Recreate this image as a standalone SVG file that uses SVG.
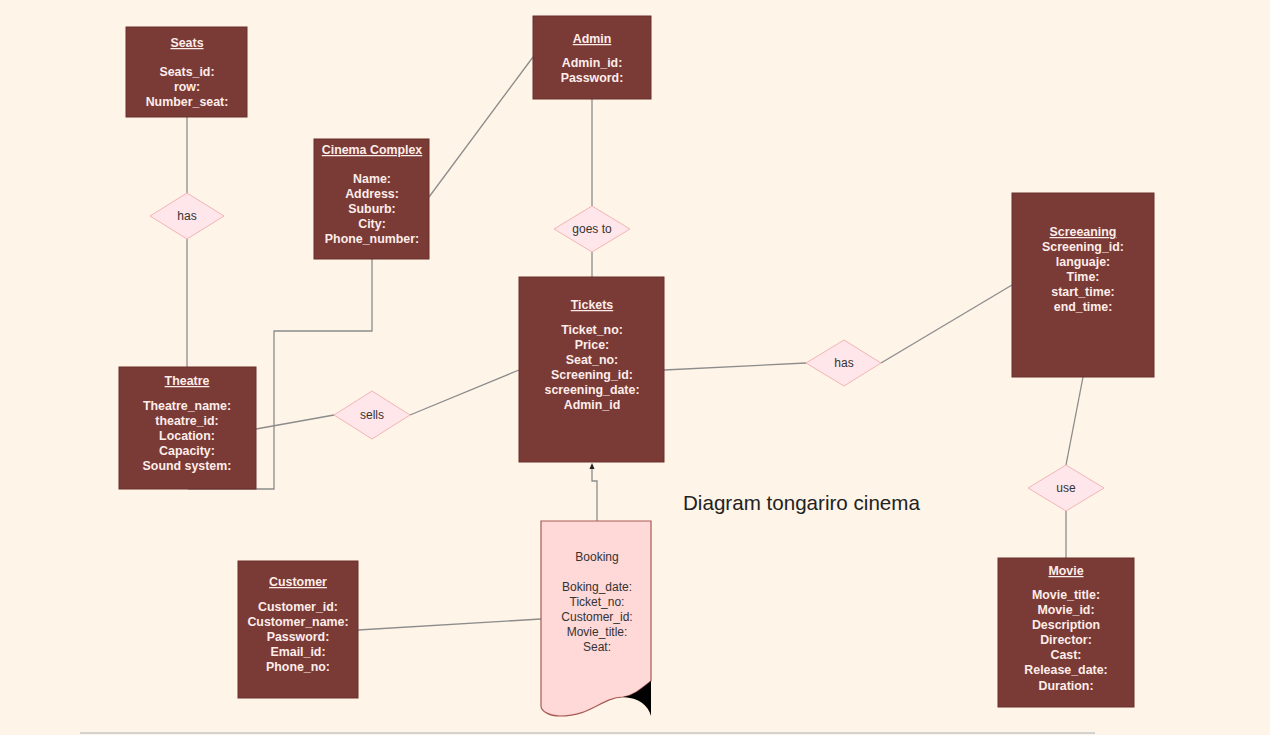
<svg xmlns="http://www.w3.org/2000/svg" width="1270" height="735" viewBox="0 0 1270 735">
  <style>
    .ent{fill:#7A3A35;stroke:#6A2E2A;stroke-width:1}
    .et{font-family:"Liberation Sans",Arial,sans-serif;font-size:12.4px;font-weight:bold;fill:#FDEDEA;text-anchor:middle}
    .ttl{text-decoration:underline}
    .rel{fill:#FFE6EA;stroke:#F2B5B5;stroke-width:1}
    .rt{font-family:"Liberation Sans",Arial,sans-serif;font-size:12px;fill:#333;text-anchor:middle}
    .con{fill:none;stroke:#8C8C8C;stroke-width:1.3}
    .doc{fill:#FFD8D8;stroke:#A85A55;stroke-width:1.2}
  </style>
  <defs>
    <marker id="arr" markerWidth="6" markerHeight="6" refX="3" refY="3" orient="auto" markerUnits="userSpaceOnUse">
      <path d="M0,0.5 L6,3 L0,5.5 Z" fill="#222"/>
    </marker>
  </defs>
  <rect x="0" y="0" width="1270" height="735" fill="#FEF4E8"/>
  <line x1="80" y1="733" x2="1095" y2="733" stroke="#D2D2D2" stroke-width="2"/>

  <g id="connectors">
    <path class="con" d="M187,117 V193"/>
    <path class="con" d="M187,239 V367"/>
    <path class="con" d="M429,197 L533,57"/>
    <path class="con" d="M372,259 V331 H274 V489 H188"/>
    <path class="con" d="M256,429 L334,415"/>
    <path class="con" d="M410,415 L519,370"/>
    <path class="con" d="M592,99 V206"/>
    <path class="con" d="M592,252 V277"/>
    <path class="con" d="M664,370 L806,363"/>
    <path class="con" d="M881,363 L1012,285"/>
    <path class="con" d="M1083,377 L1066,465"/>
    <path class="con" d="M1066,511 V558"/>
    <path class="con" d="M358,630 L541,619"/>
    <path class="con" d="M597,521 V481 H592 V466" stroke="#555" marker-end="url(#arr)"/>
  </g>

  <g id="seats">
    <rect class="ent" x="126" y="27" width="121" height="90"/>
    <text class="et" x="187" y="47"><tspan class="ttl">Seats</tspan><tspan x="187" y="76">Seats_id:</tspan><tspan x="187" y="91">row:</tspan><tspan x="187" y="106">Number_seat:</tspan></text>
  </g>

  <g id="admin">
    <rect class="ent" x="533" y="16" width="118" height="83"/>
    <text class="et" x="592" y="43"><tspan class="ttl">Admin</tspan><tspan x="592" y="67">Admin_id:</tspan><tspan x="592" y="82">Password:</tspan></text>
  </g>

  <g id="cinema-complex">
    <rect class="ent" x="314" y="139" width="115" height="120"/>
    <text class="et" x="372" y="154"><tspan class="ttl">Cinema Complex</tspan><tspan x="372" y="183">Name:</tspan><tspan x="372" y="198">Address:</tspan><tspan x="372" y="213">Suburb:</tspan><tspan x="372" y="228">City:</tspan><tspan x="372" y="243">Phone_number:</tspan></text>
  </g>

  <g id="theatre">
    <rect class="ent" x="119" y="367" width="137" height="122"/>
    <text class="et" x="187" y="385"><tspan class="ttl">Theatre</tspan><tspan x="187" y="410">Theatre_name:</tspan><tspan x="187" y="425">theatre_id:</tspan><tspan x="187" y="440">Location:</tspan><tspan x="187" y="455">Capacity:</tspan><tspan x="187" y="470">Sound system:</tspan></text>
  </g>

  <g id="tickets">
    <rect class="ent" x="519" y="277" width="145" height="185"/>
    <text class="et" x="592" y="309"><tspan class="ttl">Tickets</tspan><tspan x="592" y="334">Ticket_no:</tspan><tspan x="592" y="349">Price:</tspan><tspan x="592" y="364">Seat_no:</tspan><tspan x="592" y="379">Screening_id:</tspan><tspan x="592" y="394">screening_date:</tspan><tspan x="592" y="409">Admin_id</tspan></text>
  </g>

  <g id="screening">
    <rect class="ent" x="1012" y="193" width="142" height="184"/>
    <text class="et" x="1083" y="236"><tspan class="ttl">Screeaning</tspan><tspan x="1083" y="251">Screening_id:</tspan><tspan x="1083" y="266">languaje:</tspan><tspan x="1083" y="281">Time:</tspan><tspan x="1083" y="296">start_time:</tspan><tspan x="1083" y="311">end_time:</tspan></text>
  </g>

  <g id="movie">
    <rect class="ent" x="998" y="558" width="136" height="149"/>
    <text class="et" x="1066" y="575"><tspan class="ttl">Movie</tspan><tspan x="1066" y="599">Movie_title:</tspan><tspan x="1066" y="614">Movie_id:</tspan><tspan x="1066" y="629">Description</tspan><tspan x="1066" y="644">Director:</tspan><tspan x="1066" y="659">Cast:</tspan><tspan x="1066" y="674">Release_date:</tspan><tspan x="1066" y="690">Duration:</tspan></text>
  </g>

  <g id="customer">
    <rect class="ent" x="238" y="561" width="120" height="137"/>
    <text class="et" x="298" y="586"><tspan class="ttl">Customer</tspan><tspan x="298" y="611">Customer_id:</tspan><tspan x="298" y="626">Customer_name:</tspan><tspan x="298" y="641">Password:</tspan><tspan x="298" y="656">Email_id:</tspan><tspan x="298" y="671">Phone_no:</tspan></text>
  </g>

  <g id="booking">
    <path class="doc" d="M541,521 H651 V681 C641,689 633,696 623,697 C600,698 592,716 560,716 C549,716 541,711 541,706 Z"/>
    <path d="M651,681 C641,689 633,696 623,697 C639,698 648,705 651,716 Z" fill="#000"/>
    <text class="rt" x="597" y="561"><tspan>Booking</tspan><tspan x="597" y="591">Boking_date:</tspan><tspan x="597" y="606">Ticket_no:</tspan><tspan x="597" y="621">Customer_id:</tspan><tspan x="597" y="636">Movie_title:</tspan><tspan x="597" y="651">Seat:</tspan></text>
  </g>

  <g id="rel-seats-theatre">
    <polygon class="rel" points="187,193 224,216 187,239 150,216"/>
    <text class="rt" x="187" y="220">has</text>
  </g>
  <g id="rel-goes-to">
    <polygon class="rel" points="592,206 630,229 592,252 554,229"/>
    <text class="rt" x="592" y="233">goes to</text>
  </g>
  <g id="rel-sells">
    <polygon class="rel" points="372,391 410,415 372,439 334,415"/>
    <text class="rt" x="372" y="419">sells</text>
  </g>
  <g id="rel-tickets-screening">
    <polygon class="rel" points="844,340 881,363 844,386 806,363"/>
    <text class="rt" x="844" y="367">has</text>
  </g>
  <g id="rel-use">
    <polygon class="rel" points="1066,465 1104,488 1066,511 1028,488"/>
    <text class="rt" x="1066" y="492">use</text>
  </g>

  <text x="683" y="510" font-family="'Liberation Sans',Arial,sans-serif" font-size="20.6" fill="#222">Diagram tongariro cinema</text>
</svg>
